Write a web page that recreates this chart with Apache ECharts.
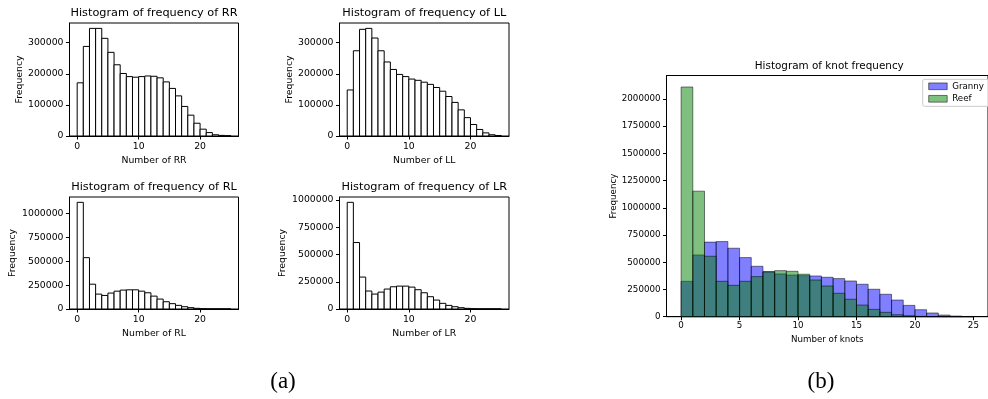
<!DOCTYPE html>
<html>
<head>
<meta charset="utf-8">
<script src="https://cdn.jsdelivr.net/npm/echarts@6/dist/echarts.min.js"></script>
<style>
html,body{margin:0;padding:0;background:#fff;}
#chart{width:988px;height:399px;}
</style>
</head>
<body>
<div id="chart"></div>
<script>
// ---- data (bin starts, each bin width 1) ----
const binStarts = [0,1,2,3,4,5,6,7,8,9,10,11,12,13,14,15,16,17,18,19,20,21,22,23,24];
const rrCounts = [171000,288000,346000,346000,314000,269000,229000,201000,191000,189000,191000,193000,192000,187000,174000,153000,129000,95000,67000,41000,22000,11000,4000,2000,1000];
const llCounts = [148000,274000,343000,346000,315000,274000,238000,214000,198000,191000,183000,179000,173000,166000,156000,144000,127000,108000,84000,59000,37000,21000,10000,4000,1500];
const rlCounts = [1118000,538000,260000,156000,142000,167000,187000,198000,201000,201000,187000,170000,135000,104000,76000,56000,38000,24000,14000,7000,3000,1000,500,200,100];
const lrCounts = [979000,610000,293000,165000,137000,155000,183000,204000,210000,210000,201000,177000,149000,113000,82000,52000,33000,21000,12000,6000,3000,1000,500,200,100];
const grannyCounts = [325000,567000,685000,690000,629000,543000,463000,415000,393000,383000,377000,374000,362000,350000,328000,298000,252000,206000,153000,104000,64000,34000,15000,6000,2000];
const reefCounts = [2110000,1153000,555000,325000,288000,325000,368000,410000,423000,417000,390000,337000,282000,215000,160000,107000,67000,40000,18000,9000,3000,1000,300,100,50];

const smallXTicks = [0,10,20];
const topYTicks = [0,100000,200000,300000];
const bottomYTicks = [0,250000,500000,750000,1000000];
const knotXTicks = [0,5,10,15,20,25];
const knotYTicks = [0,250000,500000,750000,1000000,1250000,1500000,1750000,2000000];

const smallTitles = ['Histogram of frequency of RR','Histogram of frequency of LL','Histogram of frequency of RL','Histogram of frequency of LR'];
const smallXNames = ['Number of RR','Number of LL','Number of RL','Number of LR'];
const knotTitle = 'Histogram of knot frequency';
const knotXName = 'Number of knots';
const yName = 'Frequency';
const seriesNames = ['Granny','Reef'];
const captions = ['(a)','(b)'];

// ---- layout ----
const BIN_WIDTH = 1;
const FONT = 'DejaVu Sans';
const smallGrids = [
  {left:69.5, top:23, width:169, height:113},
  {left:339.5, top:23, width:169.5, height:113},
  {left:69.5, top:197, width:169, height:112},
  {left:339.5, top:197, width:169.5, height:112}
];
const knotGrid = {left:666.5, top:75.5, width:325.5, height:241.2};
const smallData = [rrCounts, llCounts, rlCounts, lrCounts];
const smallYTicks = [topYTicks, topYTicks, bottomYTicks, bottomYTicks];
const smallYNameGap = [45, 45, 52, 52];

function toPairs(vals){ return binStarts.map((b,i)=>[b, vals[i]]); }

function histItem(fill, stroke){
  return function(params, api){
    const x0 = api.value(0), v = api.value(1);
    const p0 = api.coord([x0, v]);
    const p1 = api.coord([x0 + BIN_WIDTH, 0]);
    return {
      type:'rect',
      shape:{x:p0[0], y:p0[1], width:p1[0]-p0[0], height:p1[1]-p0[1]},
      style:{fill:fill, stroke:stroke, lineWidth:1}
    };
  };
}

function xAxisCfg(gi, ticks, name, fs, gap, margin){
  return {
    type:'value', gridIndex:gi, min:-1.25, max:26.25,
    axisLine:{show:true, onZero:false, lineStyle:{color:'#000', width:1}},
    axisTick:{show:true, length:3.5, customValues:ticks, lineStyle:{color:'#000', width:1}},
    axisLabel:{customValues:ticks, fontSize:fs, fontFamily:FONT, color:'#000', margin:margin, formatter:v=>String(v)},
    splitLine:{show:false},
    name:name, nameLocation:'middle', nameGap:gap,
    nameTextStyle:{fontSize:fs, fontFamily:FONT, color:'#000'}
  };
}
function yAxisCfg(gi, ticks, max, fs, gap, margin){
  return {
    type:'value', gridIndex:gi, min:0, max:max,
    axisLine:{show:true, onZero:false, lineStyle:{color:'#000', width:1}},
    axisTick:{show:true, length:3.5, customValues:ticks, lineStyle:{color:'#000', width:1}},
    axisLabel:{customValues:ticks, fontSize:fs, fontFamily:FONT, color:'#000', margin:margin, formatter:v=>String(v)},
    splitLine:{show:false},
    name:yName, nameLocation:'middle', nameGap:gap, nameRotate:90,
    nameTextStyle:{fontSize:fs, fontFamily:FONT, color:'#000'}
  };
}

const grid = [], xAxis = [], yAxis = [], series = [], graphic = [];
smallGrids.forEach((g,i)=>{
  grid.push(Object.assign({show:true, borderColor:'#000', borderWidth:1, backgroundColor:'transparent'}, g));
  xAxis.push(xAxisCfg(i, smallXTicks, smallXNames[i], 9.3, 20, 6));
  yAxis.push(yAxisCfg(i, smallYTicks[i], Math.max(...smallData[i])*1.05, 9.3, smallYNameGap[i], 6));
  series.push({
    type:'custom', name:smallXNames[i], xAxisIndex:i, yAxisIndex:i,
    data:toPairs(smallData[i]), encode:{x:0, y:1},
    renderItem:histItem('#ffffff', '#000000'), silent:true
  });
  graphic.push({
    type:'text', x:g.left + g.width/2, y:g.top - 10,
    style:{text:smallTitles[i], font:'11.3px "DejaVu Sans"', fill:'#000', textAlign:'center', textVerticalAlign:'middle'}
  });
});

grid.push(Object.assign({show:true, borderColor:'#000', borderWidth:1, backgroundColor:'transparent'}, knotGrid));
xAxis.push(xAxisCfg(4, knotXTicks, knotXName, 8.7, 16.5, 5));
yAxis.push(yAxisCfg(4, knotYTicks, Math.max(...reefCounts, ...grannyCounts)*1.05, 8.7, 48, 6));
const GRANNY_FILL = 'rgba(0,0,255,0.5)';
const REEF_FILL = 'rgba(0,128,0,0.5)';
const EDGE = 'rgba(0,0,0,0.5)';
series.push({
  type:'custom', name:seriesNames[0], xAxisIndex:4, yAxisIndex:4,
  data:toPairs(grannyCounts), encode:{x:0, y:1},
  itemStyle:{color:GRANNY_FILL},
  renderItem:histItem(GRANNY_FILL, EDGE), silent:true
});
series.push({
  type:'custom', name:seriesNames[1], xAxisIndex:4, yAxisIndex:4,
  data:toPairs(reefCounts), encode:{x:0, y:1},
  itemStyle:{color:REEF_FILL},
  renderItem:histItem(REEF_FILL, EDGE), silent:true
});
graphic.push({
  type:'text', x:knotGrid.left + knotGrid.width/2, y:66,
  style:{text:knotTitle, font:'10.4px "DejaVu Sans"', fill:'#000', textAlign:'center', textVerticalAlign:'middle'}
});
graphic.push({
  type:'text', x:283, y:382,
  style:{text:captions[0], font:'23px "Liberation Serif"', fill:'#000', textAlign:'center', textVerticalAlign:'middle'}
});
graphic.push({
  type:'text', x:821, y:382,
  style:{text:captions[1], font:'23px "Liberation Serif"', fill:'#000', textAlign:'center', textVerticalAlign:'middle'}
});

const chart = echarts.init(document.getElementById('chart'), null, {renderer:'canvas'});
chart.setOption({
  animation:false,
  backgroundColor:'#fff',
  textStyle:{fontFamily:FONT},
  legend:{
    orient:'vertical', left:922.7, top:79.3,
    padding:[2.5,14,3,5.5], itemGap:3.5, itemWidth:18.5, itemHeight:6.7,
    borderColor:'#cccccc', borderWidth:1, borderRadius:2, backgroundColor:'rgba(255,255,255,0.8)',
    textStyle:{fontSize:8.7, fontFamily:FONT, color:'#000'},
    selectedMode:false,
    data:[
      {name:seriesNames[0], icon:'rect', itemStyle:{color:GRANNY_FILL, borderColor:EDGE, borderWidth:1}},
      {name:seriesNames[1], icon:'rect', itemStyle:{color:REEF_FILL, borderColor:EDGE, borderWidth:1}}
    ]
  },
  grid:grid, xAxis:xAxis, yAxis:yAxis, series:series, graphic:graphic
});
</script>
</body>
</html>
